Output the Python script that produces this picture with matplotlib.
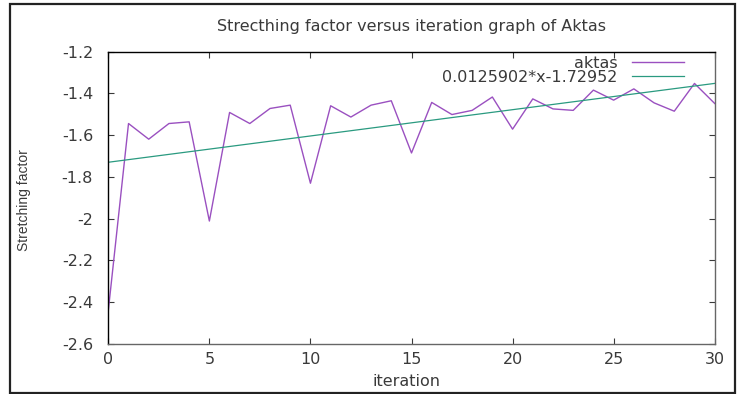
import matplotlib
matplotlib.use("Agg")
import matplotlib.pyplot as plt
from matplotlib.patches import Rectangle
from matplotlib.ticker import FuncFormatter
import numpy as np

plt.rcParams['font.family'] = ['DejaVu Sans']
plt.rcParams['axes.unicode_minus'] = False

# data
iteration = list(range(31))
aktas = [-2.44, -1.544, -1.619, -1.544, -1.536, -2.011, -1.491, -1.544, -1.472, -1.456,
         -1.830, -1.459, -1.513, -1.456, -1.435, -1.685, -1.443, -1.501, -1.481, -1.417,
         -1.571, -1.426, -1.474, -1.481, -1.384, -1.432, -1.378, -1.445, -1.485, -1.352,
         -1.448]
slope = 0.0125902
intercept = -1.72952
fit_label = "0.0125902*x-1.72952"

W, H = 739, 394
fs = 11.5
txt = '#3a3a3a'
fig = plt.figure(figsize=(W/100, H/100), dpi=100)
ax = fig.add_axes([108.3/W, 1-344/H, (714.7-108.3)/W, (344-51.7)/H])

ax.plot(iteration, aktas, color='#9a50c0', lw=1.0, label='aktas')
xf = np.array([0, 30])
ax.plot(xf, slope*xf + intercept, color='#2a9a80', lw=0.9, label=fit_label)

ax.set_xlim(0, 30)
ax.set_ylim(-2.6, -1.2)
ax.set_xticks(range(0, 31, 5))
ax.set_yticks(np.arange(-2.6, -1.19, 0.2))
ax.yaxis.set_major_formatter(FuncFormatter(lambda v, p: '%g' % round(v, 2)))
ax.tick_params(direction='in', length=4, width=0.8, top=True, right=True,
               labelsize=fs, colors=txt)
ax.tick_params(axis='y', pad=11)
ax.tick_params(axis='x', pad=6)
for s in ['left', 'top']:
    ax.spines[s].set_color('black')
for s in ['bottom', 'right']:
    ax.spines[s].set_color('#666666')
for s in ax.spines.values():
    s.set_linewidth(1.0)

fig.text(411.5/W, 1-27/H, "Strecthing factor versus iteration graph of Aktas",
         ha='center', va='center', fontsize=fs, color=txt)
fig.text(24/W, 1-200/H, "Stretching factor", rotation=90, ha='center', va='center',
         fontsize=10, color=txt, family='Liberation Sans')
fig.text(406/W, 1-381/H, "iteration", ha='center', va='center', fontsize=fs,
         color=txt)

leg = ax.legend(loc='upper right', bbox_to_anchor=(692/W, 1-48/H),
                bbox_transform=fig.transFigure, frameon=False, markerfirst=False,
                borderpad=0, labelspacing=-0.08, handlelength=3.25,
                handletextpad=0.9, fontsize=fs)
for t in leg.get_texts():
    t.set_color(txt)

fig.add_artist(Rectangle((10/W, 1-393/H), 725/W, 389/H, transform=fig.transFigure,
                         fill=False, edgecolor='#222222', lw=1.6))

fig.savefig("out.png", dpi=100)
